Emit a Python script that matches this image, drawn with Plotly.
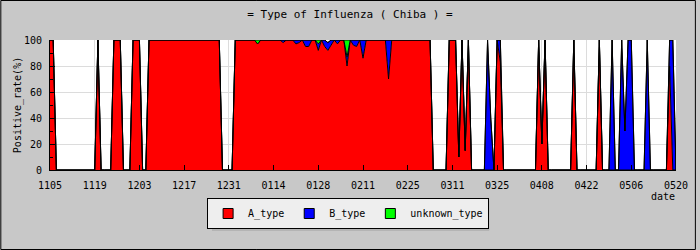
import plotly.graph_objects as go
import pandas as pd

# ---- data ----
start_date = "2010-11-05"
n_days = 197
dates = pd.date_range(start_date, periods=n_days, freq="D")

tick_labels = ["1105", "1119", "1203", "1217", "1231", "0114", "0128", "0211",
               "0225", "0311", "0325", "0408", "0422", "0506", "0520"]

a_type = [
    100, 100, 0, 0, 0, 0, 0, 0, 0, 0, 0, 0, 0, 0,
    0, 100, 0, 0, 0, 0, 100, 100, 100, 0, 0, 0, 100, 100,
    100, 0, 0, 100, 100, 100, 100, 100, 100, 100, 100, 100, 100, 100,
    100, 100, 100, 100, 100, 100, 100, 100, 100, 100, 100, 100, 0, 0,
    0, 0, 100, 100, 100, 100, 100, 100, 100, 97, 100, 100, 100, 100,
    100, 100, 100, 98, 100, 100, 100, 97, 98, 100, 95, 95, 100, 100,
    92, 100, 95, 92, 96, 100, 97, 100, 100, 80, 100, 96, 95, 100,
    86, 100, 100, 100, 100, 100, 100, 100, 70, 100, 100, 100, 100, 100,
    100, 100, 100, 100, 100, 100, 100, 100, 0, 0, 0, 0, 0, 100,
    100, 100, 10, 100, 15, 100, 0, 0, 0, 0, 0, 0, 0, 0,
    100, 83, 0, 0, 0, 0, 0, 0, 0, 0, 0, 0, 0, 100,
    20, 100, 0, 0, 0, 0, 0, 0, 0, 0, 100, 0, 0, 0,
    0, 0, 0, 0, 100, 0, 0, 0, 0, 0, 0, 0, 0, 0,
    0, 0, 0, 0, 0, 0, 0, 0, 0, 0, 0, 0, 80, 0,
    0,
]

b_type = [
    0, 0, 0, 0, 0, 0, 0, 0, 0, 0, 0, 0, 0, 0,
    0, 0, 0, 0, 0, 0, 0, 0, 0, 0, 0, 0, 0, 0,
    0, 0, 0, 0, 0, 0, 0, 0, 0, 0, 0, 0, 0, 0,
    0, 0, 0, 0, 0, 0, 0, 0, 0, 0, 0, 0, 0, 0,
    0, 0, 0, 0, 0, 0, 0, 0, 0, 0, 0, 0, 0, 0,
    0, 0, 0, 2, 0, 0, 0, 3, 2, 0, 5, 5, 0, 0,
    5, 0, 5, 6, 4, 0, 3, 0, 0, 7, 0, 4, 5, 0,
    14, 0, 0, 0, 0, 0, 0, 0, 30, 0, 0, 0, 0, 0,
    0, 0, 0, 0, 0, 0, 0, 0, 0, 0, 0, 0, 0, 0,
    0, 0, 0, 0, 0, 0, 0, 0, 0, 0, 0, 100, 40, 0,
    0, 17, 0, 0, 0, 0, 0, 0, 0, 0, 0, 0, 0, 0,
    0, 0, 0, 0, 0, 0, 0, 0, 0, 0, 0, 0, 0, 0,
    0, 0, 0, 0, 0, 0, 0, 0, 100, 0, 0, 100, 30, 100,
    100, 0, 0, 0, 0, 100, 0, 0, 0, 0, 0, 0, 20, 100,
    0,
]

unknown_type = [
    0, 0, 0, 0, 0, 0, 0, 0, 0, 0, 0, 0, 0, 0,
    0, 0, 0, 0, 0, 0, 0, 0, 0, 0, 0, 0, 0, 0,
    0, 0, 0, 0, 0, 0, 0, 0, 0, 0, 0, 0, 0, 0,
    0, 0, 0, 0, 0, 0, 0, 0, 0, 0, 0, 0, 0, 0,
    0, 0, 0, 0, 0, 0, 0, 0, 0, 3, 0, 0, 0, 0,
    0, 0, 0, 0, 0, 0, 0, 0, 0, 0, 0, 0, 0, 0,
    3, 0, 0, 0, 0, 0, 0, 0, 0, 13, 0, 0, 0, 0,
    0, 0, 0, 0, 0, 0, 0, 0, 0, 0, 0, 0, 0, 0,
    0, 0, 0, 0, 0, 0, 0, 0, 0, 0, 0, 0, 0, 0,
    0, 0, 0, 0, 0, 0, 0, 0, 0, 0, 0, 0, 0, 0,
    0, 0, 0, 0, 0, 0, 0, 0, 0, 0, 0, 0, 0, 0,
    0, 0, 0, 0, 0, 0, 0, 0, 0, 0, 0, 0, 0, 0,
    0, 0, 0, 0, 0, 0, 0, 0, 0, 0, 0, 0, 0, 0,
    0, 0, 0, 0, 0, 0, 0, 0, 0, 0, 0, 0, 0, 0,
    0,
]

series_names = ["A_type", "B_type", "unknown_type"]
series_colors = ["#ff0000", "#0000ff", "#00ff00"]
series_values = [a_type, b_type, unknown_type]

tick_vals = list(dates[::14])

FONT = "DejaVu Sans Mono"

fig = go.Figure()
for name, color, vals in zip(series_names, series_colors, series_values):
    fig.add_trace(go.Scatter(
        x=dates, y=vals, name=name, stackgroup="one", mode="lines",
        line=dict(color="black", width=1, shape="linear"),
        fillcolor=color, showlegend=False, hoverinfo="skip",
    ))
# legend entries (square swatches)
for name, color in zip(series_names, series_colors):
    fig.add_trace(go.Scatter(
        x=[None], y=[None], name=name, mode="markers",
        marker=dict(symbol="square", size=10, color=color,
                    line=dict(color="black", width=1)),
    ))

W, H = 700, 250
L, R, T, B = 50, 20, 40, 80
pw, ph = W - L - R, H - T - B


def px_x(px):
    return (px - L) / pw


def px_y(py):
    return (H - B - py) / ph


fig.update_layout(
    width=W, height=H,
    margin=dict(l=L, r=R, t=T, b=B),
    paper_bgcolor="#c8c8c8",
    plot_bgcolor="#ffffff",
    font=dict(family=FONT, size=10, color="black"),
    title=dict(text="= Type of Influenza ( Chiba ) =", x=0.5, xanchor="center",
               y=1 - 14 / H, yanchor="middle", yref="container",
               font=dict(family=FONT, size=11, color="black")),
    showlegend=True,
    legend=dict(orientation="h", x=px_x(350), xanchor="center",
                y=px_y(198), yanchor="top", traceorder="normal",
                bgcolor="#eeeeee", bordercolor="black", borderwidth=1,
                font=dict(family=FONT, size=10, color="black"),
                itemclick=False),
    xaxis=dict(
        type="date", range=[dates[0], dates[-1]],
        tickvals=tick_vals, ticktext=tick_labels,
        ticks="inside", ticklen=5, tickcolor="black",
        showline=True, linecolor="black", linewidth=1,
        showgrid=True, gridcolor="#dcdcdc", gridwidth=1,
        ticklabelstandoff=6, zeroline=False,
        tickfont=dict(family=FONT, size=10, color="black"),
    ),
    yaxis=dict(
        range=[0, 100], tickvals=[0, 20, 40, 60, 80, 100],
        ticks="inside", ticklen=5, tickcolor="black",
        minor=dict(ticks="inside", ticklen=3, dtick=10, tickcolor="black", showgrid=False),
        showline=True, linecolor="black", linewidth=1,
        showgrid=True, gridcolor="#dcdcdc", gridwidth=1, zeroline=False,
        ticklabelstandoff=5,
        title=dict(text="Positive_rate(%)", standoff=0,
                   font=dict(family=FONT, size=10, color="black")),
        tickfont=dict(family=FONT, size=10, color="black"),
    ),
    shapes=[
        # legend shadow
        dict(type="rect", xref="paper", yref="paper", layer="below",
             x0=px_x(213), x1=px_x(492), y0=px_y(231), y1=px_y(201),
             fillcolor="#b4b4b4", line=dict(width=0)),
        # outer frame of the image
        dict(type="rect", xref="paper", yref="paper",
             x0=px_x(0.5), x1=px_x(W - 0.5), y0=px_y(H - 0.5), y1=px_y(0.5),
             line=dict(color="black", width=1)),
    ],
    annotations=[
        dict(text="date", xref="paper", yref="paper", x=px_x(681), y=px_y(196),
             xanchor="right", yanchor="middle", showarrow=False,
             font=dict(family=FONT, size=10, color="black")),
    ],
)

fig.write_html("out.html")
